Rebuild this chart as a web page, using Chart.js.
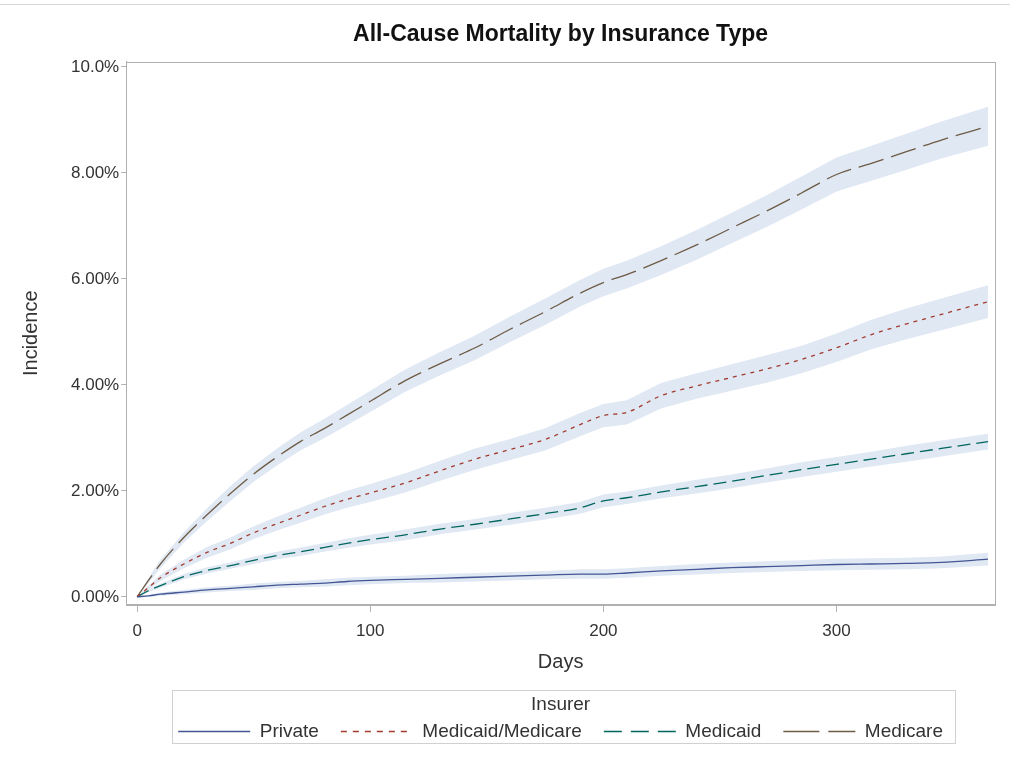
<!DOCTYPE html>
<html>
<head>
<meta charset="utf-8">
<title>All-Cause Mortality by Insurance Type</title>
<script src="https://cdn.jsdelivr.net/npm/chart.js@4.4.1/dist/chart.umd.min.js"></script>
<style>
  html, body { margin: 0; padding: 0; background: #fff; }
  #wrap { width: 1010px; height: 760px; position: relative; }
</style>
</head>
<body>
<div id="wrap"><canvas id="chartCanvas" width="1010" height="760"></canvas></div>
<script>
var days = [0, 5, 10, 20, 30, 40, 50, 60, 70, 80, 90, 100, 115, 130, 145, 160, 175, 190, 200, 210, 225, 240, 255, 270, 285, 300, 315, 330, 345, 365];

// cumulative incidence, in %
var privateVals  = [0, 0.02, 0.05, 0.09, 0.13, 0.16, 0.19, 0.22, 0.24, 0.26, 0.29, 0.31, 0.33, 0.35, 0.37, 0.39, 0.41, 0.43, 0.43, 0.45, 0.49, 0.52, 0.55, 0.57, 0.59, 0.61, 0.62, 0.63, 0.65, 0.71];
var dualVals     = [0, 0.18, 0.36, 0.62, 0.84, 1.01, 1.21, 1.38, 1.54, 1.70, 1.84, 1.96, 2.15, 2.38, 2.60, 2.78, 2.97, 3.25, 3.42, 3.48, 3.80, 3.98, 4.14, 4.30, 4.48, 4.70, 4.95, 5.15, 5.33, 5.57];
var medicaidVals = [0, 0.12, 0.21, 0.38, 0.50, 0.59, 0.69, 0.78, 0.85, 0.93, 1.01, 1.08, 1.17, 1.28, 1.37, 1.47, 1.57, 1.68, 1.81, 1.87, 1.98, 2.08, 2.18, 2.29, 2.40, 2.50, 2.60, 2.70, 2.80, 2.93];
var medicareVals = [0, 0.32, 0.62, 1.12, 1.55, 1.95, 2.32, 2.64, 2.93, 3.17, 3.43, 3.69, 4.08, 4.40, 4.70, 5.05, 5.38, 5.73, 5.93, 6.08, 6.35, 6.64, 6.96, 7.28, 7.62, 7.97, 8.18, 8.40, 8.62, 8.88];

// half width of the confidence band, in %
var privateBand  = [0, 0.02, 0.03, 0.04, 0.05, 0.05, 0.06, 0.06, 0.06, 0.07, 0.07, 0.07, 0.07, 0.08, 0.08, 0.08, 0.08, 0.09, 0.09, 0.09, 0.09, 0.10, 0.10, 0.10, 0.10, 0.11, 0.11, 0.11, 0.11, 0.12];
var dualBand     = [0, 0.04, 0.06, 0.08, 0.10, 0.11, 0.12, 0.13, 0.14, 0.15, 0.16, 0.17, 0.18, 0.19, 0.20, 0.20, 0.21, 0.22, 0.22, 0.23, 0.24, 0.24, 0.25, 0.26, 0.26, 0.27, 0.28, 0.29, 0.30, 0.31];
var medicaidBand = [0, 0.03, 0.04, 0.05, 0.06, 0.06, 0.07, 0.07, 0.08, 0.08, 0.09, 0.09, 0.10, 0.10, 0.10, 0.11, 0.11, 0.11, 0.12, 0.12, 0.12, 0.13, 0.13, 0.13, 0.14, 0.14, 0.14, 0.15, 0.15, 0.15];
var medicareBand = [0, 0.05, 0.08, 0.10, 0.12, 0.14, 0.15, 0.16, 0.17, 0.18, 0.19, 0.20, 0.21, 0.22, 0.23, 0.24, 0.25, 0.25, 0.26, 0.26, 0.27, 0.28, 0.29, 0.30, 0.31, 0.32, 0.33, 0.34, 0.35, 0.37];

var yTicks = [0, 2, 4, 6, 8, 10];
var xTicks = [0, 100, 200, 300];

var series = [
  { label: 'Private',           vals: privateVals,  band: privateBand,  color: '#445694', dash: [],      legendDash: [] },
  { label: 'Medicaid/Medicare', vals: dualVals,     band: dualBand,     color: '#A23A2E', dash: [4, 5],  legendDash: [6, 6] },
  { label: 'Medicaid',          vals: medicaidVals, band: medicaidBand, color: '#01665E', dash: [13, 6], legendDash: [18, 9] },
  { label: 'Medicare',          vals: medicareVals, band: medicareBand, color: '#6e5b45', dash: [26, 8], legendDash: [36, 9] }
];

var bandColor = '#e0e8f4';

function toPoints(vals, band, sign) {
  return days.map(function(d, i) { return { x: d, y: vals[i] + sign * band[i] }; });
}

var datasets = [];
series.forEach(function(s) {
  datasets.push({ label: s.label + ' lower', data: toPoints(s.vals, s.band, -1), borderWidth: 0, pointRadius: 0, fill: false, order: 2 });
  datasets.push({ label: s.label + ' upper', data: toPoints(s.vals, s.band, 1), borderWidth: 0, pointRadius: 0, fill: '-1', backgroundColor: bandColor, order: 2 });
});
series.forEach(function(s) {
  datasets.push({ label: s.label, data: toPoints(s.vals, s.band, 0), borderColor: s.color, borderWidth: 1.3, borderDash: s.dash, pointRadius: 0, fill: false, order: 1, cubicInterpolationMode: 'monotone' });
});

// frame around the plot and around the legend
var framePlugin = {
  id: 'frame',
  afterDraw: function(chart) {
    var ctx = chart.ctx, a = chart.chartArea;
    ctx.save();
    ctx.strokeStyle = '#b0b0b0';
    ctx.lineWidth = 1;
    ctx.strokeRect(Math.round(a.left) + 0.5, Math.round(a.top) + 0.5, Math.round(a.right - a.left), Math.round(a.bottom - a.top));
    var lg = chart.legend;
    if (lg && lg.legendHitBoxes.length) {
      var l = Infinity, r = -Infinity;
      lg.legendHitBoxes.forEach(function(h) { l = Math.min(l, h.left); r = Math.max(r, h.left + h.width); });
      ctx.strokeStyle = '#d0d0d0';
      ctx.strokeRect(Math.round(l - 6) + 0.5, Math.round(lg.top) + 0.5, Math.round(r - l + 18), 53);
    }
    ctx.strokeStyle = '#d8d8d8';
    ctx.beginPath();
    ctx.moveTo(0, 4.5);
    ctx.lineTo(chart.width, 4.5);
    ctx.stroke();
    ctx.restore();
  }
};

var fontFam = '"Liberation Sans", Arial, sans-serif';

new Chart(document.getElementById('chartCanvas').getContext('2d'), {
  type: 'line',
  data: { datasets: datasets },
  plugins: [framePlugin],
  options: {
    responsive: false,
    animation: false,
    events: [],
    layout: { padding: { left: 19, right: 15, top: 4, bottom: 9 } },
    scales: {
      x: {
        type: 'linear',
        min: -4.7,
        max: 368,
        afterBuildTicks: function(axis) { axis.ticks = xTicks.map(function(v) { return { value: v }; }); },
        ticks: { color: '#333', font: { family: fontFam, size: 17 }, padding: 9 },
        grid: { drawOnChartArea: false, tickLength: 7, color: '#b0b0b0' },
        border: { color: '#b0b0b0' },
        title: { display: true, text: 'Days', color: '#333', font: { family: fontFam, size: 20 }, padding: { top: 0, bottom: 16 } }
      },
      y: {
        min: -0.15,
        max: 10.1,
        afterBuildTicks: function(axis) { axis.ticks = yTicks.map(function(v) { return { value: v }; }); },
        ticks: {
          color: '#333', font: { family: fontFam, size: 17 }, padding: 2,
          callback: function(v) { return v === 10 ? '10.0%' : v.toFixed(2) + '%'; }
        },
        grid: { drawOnChartArea: false, tickLength: 5, color: '#b0b0b0' },
        border: { color: '#b0b0b0' },
        title: { display: true, text: 'Incidence', color: '#333', font: { family: fontFam, size: 20 }, padding: { top: 0, bottom: 26 } }
      }
    },
    plugins: {
      title: {
        display: true,
        fullSize: false,
        text: 'All-Cause Mortality by Insurance Type',
        color: '#111',
        font: { family: fontFam, size: 23, weight: 'bold' },
        padding: { top: 17, bottom: 13 }
      },
      legend: {
        position: 'bottom',
        fullSize: false,
        title: { display: true, text: 'Insurer', color: '#333', font: { family: fontFam, size: 19 }, padding: { top: 5, bottom: -18 } },
        labels: {
          color: '#333',
          font: { family: fontFam, size: 19 },
          usePointStyle: true,
          pointStyle: 'line',
          pointStyleWidth: 72,
          padding: 22,
          generateLabels: function() {
            return series.map(function(s, i) {
              return { text: s.label, fontColor: '#333', strokeStyle: s.color, fillStyle: s.color, lineWidth: 1.5, lineDash: s.legendDash, pointStyle: 'line', hidden: false, datasetIndex: 8 + i };
            });
          }
        }
      },
      tooltip: { enabled: false }
    }
  }
});
</script>
</body>
</html>
